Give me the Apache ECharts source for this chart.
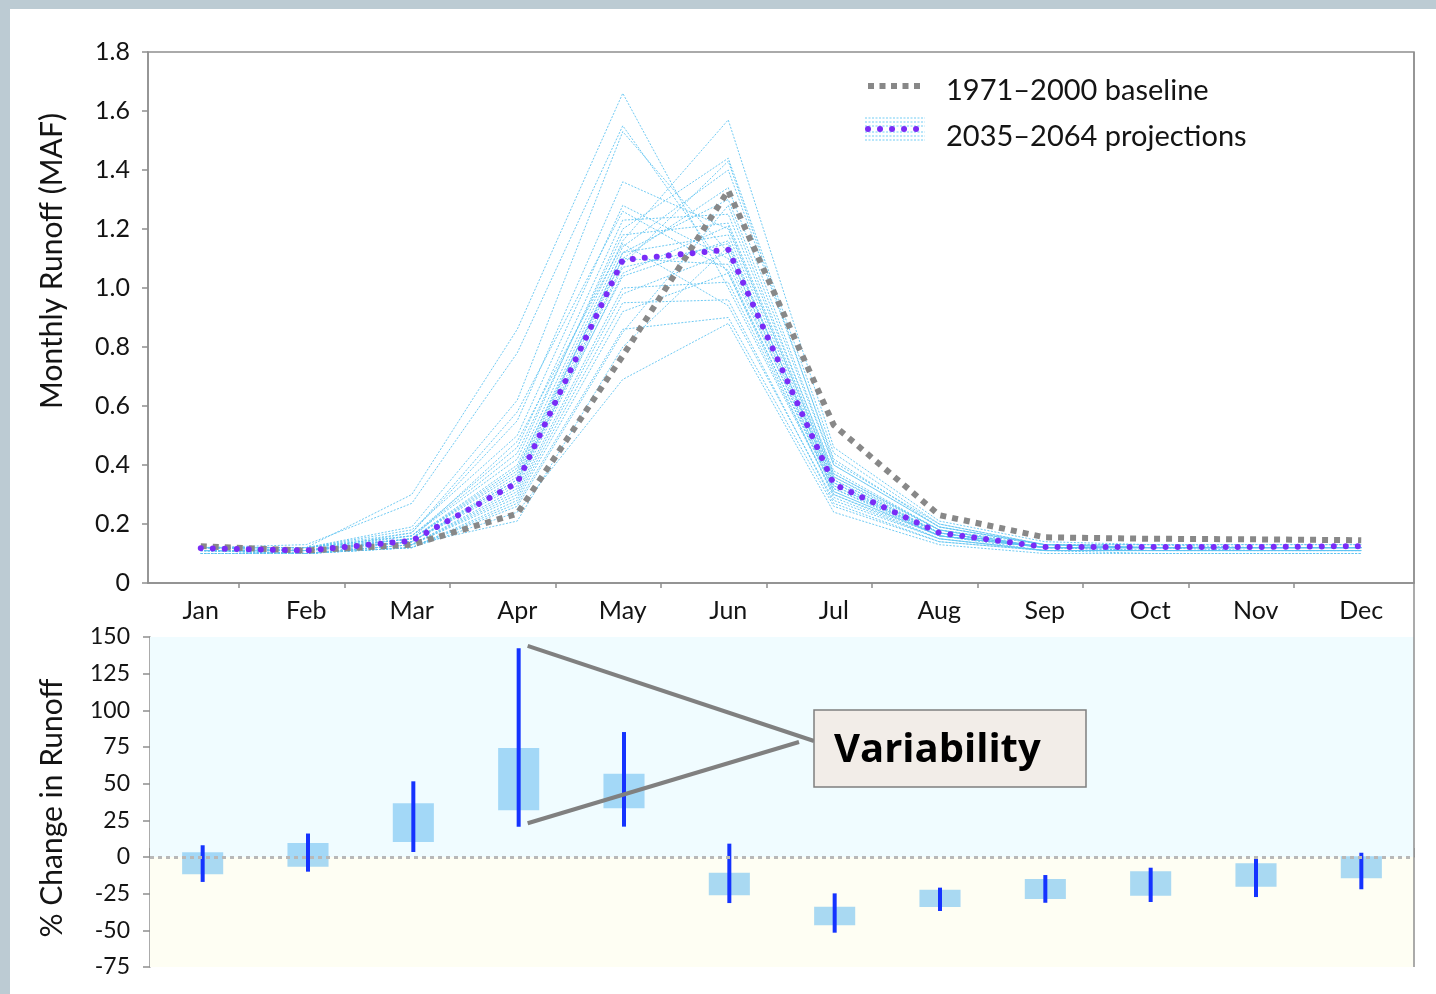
<!DOCTYPE html>
<html>
<head>
<meta charset="utf-8">
<script src="https://cdn.jsdelivr.net/npm/echarts@6/dist/echarts.min.js"></script>
<style>
  html, body { margin: 0; padding: 0; width: 1436px; height: 994px; overflow: hidden; background: #bccbd3; }
  #panel { position: absolute; left: 10px; top: 9px; right: 0; bottom: 0; background: #ffffff; }
  #chart { position: absolute; left: 0; top: 0; width: 1436px; height: 994px; }
</style>
</head>
<body>
<div id="panel"></div>
<div id="chart"></div>
<script>
// Months shared by both panels
const months = ['Jan', 'Feb', 'Mar', 'Apr', 'May', 'Jun', 'Jul', 'Aug', 'Sep', 'Oct', 'Nov', 'Dec'];

// Monthly runoff (MAF), 1971–2000 baseline
const baseline = [0.125, 0.11, 0.13, 0.235, 0.77, 1.33, 0.535, 0.23, 0.155, 0.15, 0.148, 0.145];
// Monthly runoff (MAF), 2035–2064 ensemble mean
const projectionMean = [0.118, 0.11, 0.143, 0.34, 1.095, 1.13, 0.335, 0.17, 0.122, 0.122, 0.122, 0.125];

// Individual 2035–2064 ensemble members (MAF)
const m01 = [0.12, 0.12, 0.30, 0.86, 1.66, 1.00, 0.30, 0.16, 0.12, 0.12, 0.12, 0.12];
const m02 = [0.12, 0.13, 0.27, 0.78, 1.55, 1.05, 0.32, 0.17, 0.12, 0.12, 0.12, 0.12];
const m03 = [0.12, 0.12, 0.19, 0.62, 1.53, 1.12, 0.34, 0.17, 0.12, 0.12, 0.12, 0.12];
const m04 = [0.11, 0.11, 0.17, 0.55, 1.36, 1.20, 0.36, 0.18, 0.12, 0.12, 0.12, 0.12];
const m05 = [0.12, 0.12, 0.18, 0.50, 1.28, 1.10, 0.31, 0.16, 0.12, 0.12, 0.12, 0.12];
const m06 = [0.11, 0.11, 0.16, 0.46, 1.23, 1.25, 0.38, 0.18, 0.13, 0.12, 0.12, 0.12];
const m07 = [0.12, 0.12, 0.16, 0.42, 1.20, 1.44, 0.44, 0.20, 0.13, 0.13, 0.13, 0.13];
const m08 = [0.11, 0.11, 0.15, 0.40, 1.16, 1.57, 0.46, 0.21, 0.14, 0.13, 0.13, 0.13];
const m09 = [0.12, 0.12, 0.15, 0.38, 1.14, 1.40, 0.42, 0.19, 0.13, 0.13, 0.12, 0.12];
const m10 = [0.11, 0.11, 0.15, 0.37, 1.12, 1.30, 0.40, 0.19, 0.13, 0.12, 0.12, 0.12];
const m11 = [0.12, 0.11, 0.14, 0.36, 1.12, 1.18, 0.35, 0.17, 0.12, 0.12, 0.12, 0.12];
const m12 = [0.11, 0.11, 0.14, 0.35, 1.10, 1.08, 0.33, 0.17, 0.12, 0.12, 0.12, 0.12];
const m13 = [0.11, 0.10, 0.14, 0.34, 1.08, 1.43, 0.41, 0.20, 0.13, 0.12, 0.12, 0.12];
const m14 = [0.12, 0.11, 0.14, 0.33, 1.07, 1.15, 0.34, 0.16, 0.12, 0.11, 0.11, 0.11];
const m15 = [0.11, 0.10, 0.13, 0.32, 1.05, 1.21, 0.36, 0.17, 0.12, 0.12, 0.11, 0.11];
const m16 = [0.10, 0.10, 0.13, 0.31, 1.00, 1.02, 0.30, 0.15, 0.11, 0.11, 0.11, 0.11];
const m17 = [0.11, 0.10, 0.13, 0.30, 0.98, 1.12, 0.32, 0.16, 0.11, 0.11, 0.11, 0.11];
const m18 = [0.10, 0.10, 0.13, 0.29, 0.95, 0.96, 0.27, 0.14, 0.11, 0.11, 0.11, 0.11];
const m19 = [0.11, 0.10, 0.12, 0.28, 0.92, 1.05, 0.29, 0.15, 0.11, 0.11, 0.11, 0.11];
const m20 = [0.10, 0.10, 0.12, 0.27, 0.86, 0.90, 0.26, 0.14, 0.11, 0.10, 0.10, 0.10];
const m21 = [0.10, 0.10, 0.12, 0.26, 0.85, 1.28, 0.37, 0.18, 0.12, 0.12, 0.12, 0.12];
const m22 = [0.10, 0.10, 0.12, 0.24, 0.69, 0.88, 0.24, 0.13, 0.10, 0.10, 0.10, 0.10];
const m23 = [0.12, 0.12, 0.16, 0.44, 1.18, 1.22, 0.37, 0.18, 0.12, 0.12, 0.12, 0.12];
const m24 = [0.11, 0.11, 0.15, 0.39, 1.10, 1.34, 0.40, 0.19, 0.13, 0.12, 0.12, 0.12];
const m25 = [0.12, 0.11, 0.14, 0.35, 1.04, 1.16, 0.33, 0.16, 0.12, 0.12, 0.12, 0.12];
const m26 = [0.11, 0.11, 0.15, 0.48, 1.15, 0.94, 0.28, 0.15, 0.11, 0.11, 0.11, 0.11];
const m27 = [0.12, 0.12, 0.17, 0.58, 1.26, 1.06, 0.31, 0.16, 0.12, 0.12, 0.12, 0.12];
const m28 = [0.11, 0.10, 0.13, 0.21, 0.80, 1.14, 0.35, 0.17, 0.12, 0.11, 0.11, 0.11];
const members = [m01, m02, m03, m04, m05, m06, m07, m08, m09, m10, m11, m12, m13, m14,
                 m15, m16, m17, m18, m19, m20, m21, m22, m23, m24, m25, m26, m27, m28];

// % change in runoff: interquartile box and full range per month
const boxLow    = [-11.8, -6.6, 10.2, 31.8, 33.2, -26.1, -46.6, -34.1, -28.6, -26.4, -20.2, -14.5];
const boxHigh   = [3.2, 9.5, 36.6, 74.3, 56.8, -10.7, -33.9, -22.3, -15.0, -9.8, -4.3, 0.5];
const rangeLow  = [-17.0, -10.0, 3.4, 20.7, 20.7, -31.4, -51.6, -36.8, -31.2, -30.7, -27.3, -22.0];
const rangeHigh = [8.0, 16.0, 51.6, 142.3, 85.2, 9.1, -24.8, -20.9, -12.3, -7.3, -0.9, 2.9];

// Tick labels
const runoffTicks = { min: 0, max: 1.8, step: 0.2 };
const changeTicks = { min: -75, max: 150, step: 25 };
// Upper panel's small tick marks sit just left of each month boundary
const upperTickMarks = [0.863, 1.863, 2.863, 3.863, 4.863, 5.863, 6.863, 7.863, 8.863, 9.863, 10.863];

const FONT = 'Lato, "Open Sans", sans-serif';
const AXIS_GRAY = '#8f8f8f';
const TEXT = '#141414';

const chart = echarts.init(document.getElementById('chart'), null, { renderer: 'canvas' });

const memberSeries = members.map((m, i) => ({
  name: 'member' + (i + 1),
  type: 'line',
  xAxisIndex: 0, yAxisIndex: 0,
  data: m,
  showSymbol: false,
  silent: true,
  z: 2,
  lineStyle: { color: '#5fc4f2', width: 1, type: [2, 1.5], opacity: 0.9 }
}));

const boxData = months.map((_, i) => [i, boxLow[i], boxHigh[i], rangeLow[i], rangeHigh[i]]);

const option = {
  animation: false,
  backgroundColor: 'transparent',
  textStyle: { fontFamily: FONT },
  grid: [
    { left: 148, top: 52, right: 22, height: 531, show: true, borderColor: AXIS_GRAY, borderWidth: 1.5, backgroundColor: 'transparent' },
    { left: 150, top: 637, right: 22, height: 330 }
  ],
  xAxis: [
    {
      gridIndex: 0, type: 'category', data: months, boundaryGap: true,
      axisLine: { lineStyle: { color: AXIS_GRAY, width: 1.5 } },
      axisTick: { show: false },
      axisLabel: { fontSize: 25, color: TEXT, margin: 15, fontFamily: FONT, interval: 0 }
    },
    {
      gridIndex: 0, type: 'value', min: 0, max: 12, position: 'bottom',
      axisLine: { show: false }, axisLabel: { show: false }, splitLine: { show: false },
      axisTick: { show: true, customValues: upperTickMarks, length: 5, lineStyle: { color: AXIS_GRAY, width: 1.5 } }
    },
    {
      gridIndex: 1, type: 'category', data: months, boundaryGap: true,
      axisLine: { lineStyle: { color: AXIS_GRAY, width: 1.5 } },
      axisTick: { show: true, inside: true, length: 9, interval: 0, lineStyle: { color: AXIS_GRAY, width: 1.5 } },
      axisLabel: { show: false }
    }
  ],
  yAxis: [
    {
      gridIndex: 0, type: 'value', min: runoffTicks.min, max: runoffTicks.max, interval: runoffTicks.step,
      axisLine: { show: true, lineStyle: { color: AXIS_GRAY, width: 1.5 } },
      axisTick: { show: true, length: 6, lineStyle: { color: AXIS_GRAY, width: 1.5 } },
      splitLine: { show: false },
      axisLabel: {
        fontSize: 25, color: TEXT, margin: 18, fontFamily: FONT,
        formatter: v => (Math.abs(v) < 1e-9 ? '0' : v.toFixed(1))
      }
    },
    {
      gridIndex: 1, type: 'value', min: changeTicks.min, max: changeTicks.max, interval: changeTicks.step,
      axisLine: { show: true, lineStyle: { color: AXIS_GRAY, width: 1.5 } },
      axisTick: { show: true, length: 7, lineStyle: { color: AXIS_GRAY, width: 1.5 } },
      splitLine: { show: false },
      axisLabel: { fontSize: 23, color: TEXT, margin: 20, fontFamily: FONT }
    }
  ],
  series: [
    ...memberSeries,
    {
      name: '1971–2000 baseline', type: 'line', xAxisIndex: 0, yAxisIndex: 0,
      data: baseline, showSymbol: false, z: 3, silent: true,
      lineStyle: { color: '#888888', width: 6, type: [6, 6], cap: 'butt' }
    },
    {
      name: '2035–2064 projections', type: 'line', xAxisIndex: 0, yAxisIndex: 0,
      data: projectionMean, showSymbol: false, z: 4, silent: true,
      lineStyle: { color: '#7a2cf6', width: 6, type: [0.01, 12], cap: 'round' }
    },
    {
      // shaded halves and the dotted zero line of the lower panel
      name: 'bands', type: 'line', xAxisIndex: 2, yAxisIndex: 1, data: [], z: 0, silent: true,
      markArea: {
        silent: true,
        data: [
          [{ yAxis: 0, itemStyle: { color: '#f0fcff' } }, { yAxis: changeTicks.max }],
          [{ yAxis: changeTicks.min, itemStyle: { color: '#fefef3' } }, { yAxis: 0 }]
        ]
      },
      markLine: {
        silent: true, symbol: 'none', label: { show: false },
        lineStyle: { color: '#b8b8b8', width: 3, type: [4, 4] },
        data: [{ yAxis: 0 }]
      }
    },
    {
      name: 'change', type: 'custom', xAxisIndex: 2, yAxisIndex: 1, z: 3, silent: true,
      data: boxData,
      encode: { x: 0, y: [1, 2, 3, 4] },
      renderItem: (params, api) => {
        const i = api.value(0);
        const band = api.size([1, 0])[0];
        const x = api.coord([i, 0])[0];
        const b1 = api.coord([i, api.value(1)])[1];
        const b2 = api.coord([i, api.value(2)])[1];
        const r1 = api.coord([i, api.value(3)])[1];
        const r2 = api.coord([i, api.value(4)])[1];
        const w = band * 0.39;
        return {
          type: 'group',
          children: [
            { type: 'rect', shape: { x: x - w / 2, y: b2, width: w, height: b1 - b2 },
              style: { fill: 'rgba(112,192,242,0.6)' } },
            { type: 'line', shape: { x1: x, y1: r1, x2: x, y2: r2 },
              style: { stroke: '#1533ff', lineWidth: 4 } }
          ]
        };
      }
    }
  ]
};

chart.setOption(option);

// Annotations, legend and frame drawn on top of the axes
const aprTop = chart.convertToPixel({ xAxisIndex: 2, yAxisIndex: 1 }, [3, 144]);
const aprBottom = chart.convertToPixel({ xAxisIndex: 2, yAxisIndex: 1 }, [3, 23]);
const calloutX = aprTop[0] + 9;
const box = { x: 814, y: 710, w: 272, h: 77 };

const legendLines = [118, 122, 126, 132, 136, 140].map(y => ({
  type: 'line', shape: { x1: 865, y1: y, x2: 925, y2: y },
  style: { stroke: '#72cdf5', lineWidth: 1, lineDash: [2, 1.5] }
}));

const graphics = [
  // right edge of the frame spanning both panels
  { type: 'line', shape: { x1: 1414, y1: 52, x2: 1414, y2: 967 }, style: { stroke: AXIS_GRAY, lineWidth: 1.5 }, z: 10 },
  // axis titles
  { type: 'text', x: 52, y: 261, rotation: Math.PI / 2,
    style: { text: 'Monthly Runoff (MAF)', fontSize: 30, fontFamily: FONT, fill: TEXT, align: 'center', verticalAlign: 'middle' } },
  { type: 'text', x: 52, y: 808, rotation: Math.PI / 2,
    style: { text: '% Change in Runoff', fontSize: 30, fontFamily: FONT, fill: TEXT, align: 'center', verticalAlign: 'middle' } },
  // legend
  { type: 'line', shape: { x1: 868, y1: 86, x2: 925, y2: 86 },
    style: { stroke: '#888888', lineWidth: 6, lineDash: [6, 5.5] } },
  { type: 'text', x: 946, y: 91,
    style: { text: '1971–2000 baseline', fontSize: 29, fontFamily: FONT, fill: TEXT, align: 'left', verticalAlign: 'middle' } },
  ...legendLines,
  { type: 'line', shape: { x1: 868, y1: 129, x2: 925, y2: 129 },
    style: { stroke: '#7a2cf6', lineWidth: 6, lineDash: [0.01, 12], lineCap: 'round' } },
  { type: 'text', x: 946, y: 137,
    style: { text: '2035–2064 projections', fontSize: 29, fontFamily: FONT, fill: TEXT, align: 'left', verticalAlign: 'middle' } },
  // callout
  { type: 'line', shape: { x1: calloutX, y1: aprTop[1], x2: box.x, y2: box.y + 31 },
    style: { stroke: '#808080', lineWidth: 4 }, z: 20 },
  { type: 'line', shape: { x1: calloutX, y1: aprBottom[1], x2: box.x - 15, y2: box.y + 32 },
    style: { stroke: '#808080', lineWidth: 4 }, z: 20 },
  { type: 'rect', shape: { x: box.x, y: box.y, width: box.w, height: box.h },
    style: { fill: '#f2ede8', stroke: '#7f7f7f', lineWidth: 1.5 }, z: 21 },
  { type: 'text', x: box.x + 20, y: box.y + box.h / 2 + 2, z: 22,
    style: { text: 'Variability', fontSize: 40, fontWeight: 'bold', fontFamily: '"Open Sans", "Noto Sans", sans-serif',
             fill: '#000000', align: 'left', verticalAlign: 'middle' } }
];

chart.setOption({ graphic: graphics });
</script>
</body>
</html>
